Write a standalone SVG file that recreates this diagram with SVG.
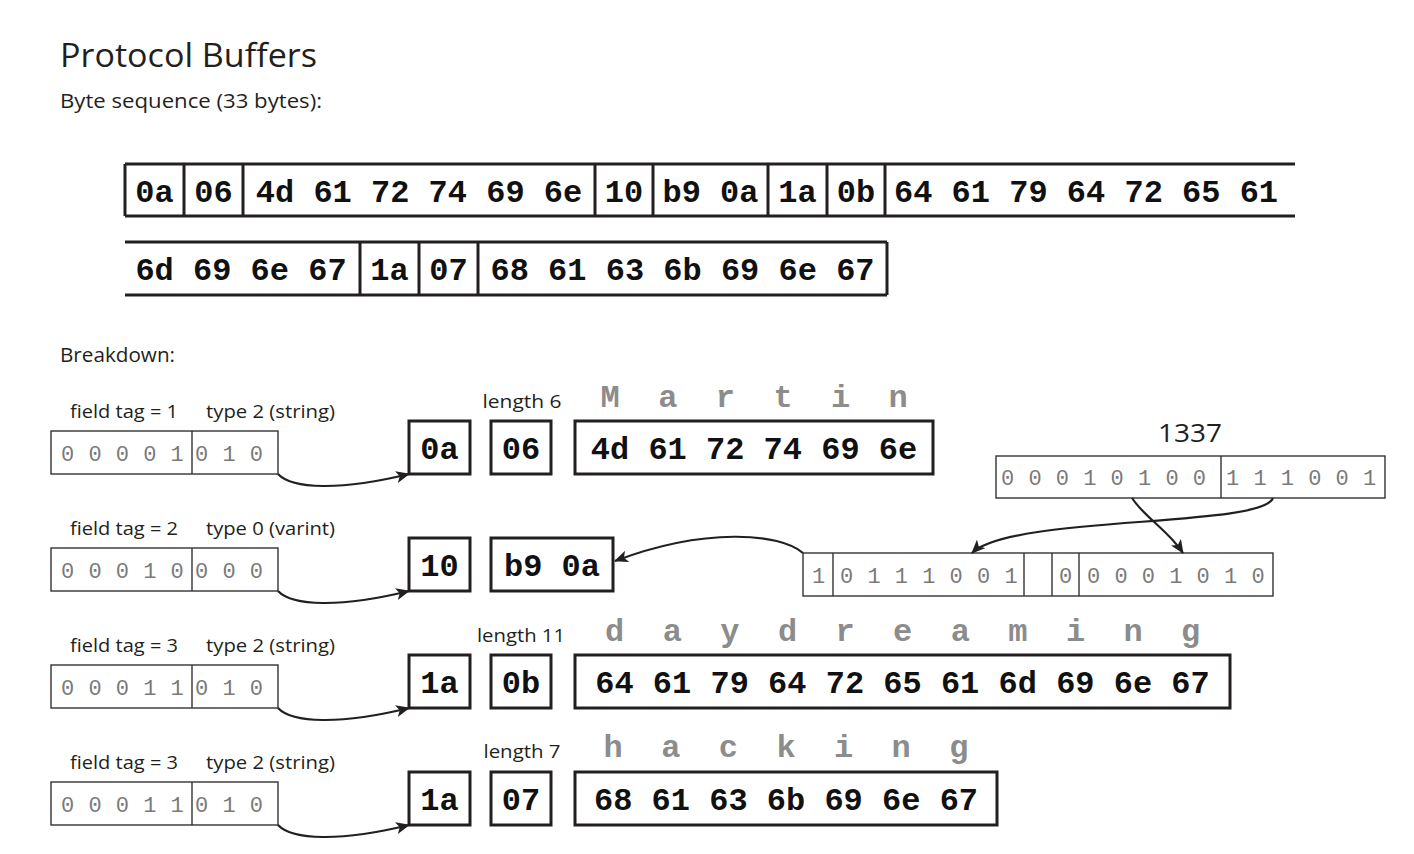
<svg xmlns="http://www.w3.org/2000/svg" width="1414" height="854" viewBox="0 0 1414 854">
<style>
.sans{font-family:"Open Sans","Liberation Sans",sans-serif;fill:#231f20}
.hex{font-family:"Liberation Mono","Courier New",monospace;font-weight:bold;font-size:32px;fill:#111}
.chr{font-family:"Liberation Mono","Courier New",monospace;font-weight:bold;font-size:32px;fill:#8c8c8c;text-anchor:middle}
.bit{font-family:"Liberation Mono","Courier New",monospace;font-size:22px;letter-spacing:0.5px;fill:#7a7a7a}
.thick{fill:#fff;stroke:#231f20;stroke-width:3}
.line{fill:none;stroke:#231f20;stroke-width:3}
.thin{fill:#fff;stroke:#333;stroke-width:1.4}
.div{stroke:#333;stroke-width:1.4}
.mid{text-anchor:middle}
.conn{fill:none;stroke:#231f20;stroke-width:2.2;marker-end:url(#ah)}
</style>
<defs>
<marker id="ah" markerWidth="14" markerHeight="12" refX="13" refY="6" orient="auto" markerUnits="userSpaceOnUse">
<path d="M0,0 L14,6 L0,12 L3.5,6 z" fill="#231f20"/>
</marker>
</defs>
<rect width="1414" height="854" fill="#fff"/>

<g id="titles">
<text class="sans" x="60" y="67" font-size="33" textLength="257" lengthAdjust="spacingAndGlyphs">Protocol Buffers</text>
<text class="sans" x="60" y="108" font-size="20" textLength="262" lengthAdjust="spacingAndGlyphs">Byte sequence (33 bytes):</text>
<text class="sans" x="60" y="362" font-size="20" textLength="115" lengthAdjust="spacingAndGlyphs">Breakdown:</text>
</g>

<g id="byte-row-1">
<line class="line" x1="125" y1="164" x2="1295" y2="164"/>
<line class="line" x1="125" y1="216" x2="1295" y2="216"/>
<line class="line" x1="125" y1="164" x2="125" y2="216"/>
<line class="line" x1="184" y1="164" x2="184" y2="216"/>
<line class="line" x1="243" y1="164" x2="243" y2="216"/>
<line class="line" x1="595" y1="164" x2="595" y2="216"/>
<line class="line" x1="653" y1="164" x2="653" y2="216"/>
<line class="line" x1="768" y1="164" x2="768" y2="216"/>
<line class="line" x1="827" y1="164" x2="827" y2="216"/>
<line class="line" x1="885" y1="164" x2="885" y2="216"/>
<text class="hex mid" x="154.5" y="202">0a</text>
<text class="hex mid" x="213.5" y="202">06</text>
<text class="hex mid" x="419" y="202">4d 61 72 74 69 6e</text>
<text class="hex mid" x="624" y="202">10</text>
<text class="hex mid" x="710.5" y="202">b9 0a</text>
<text class="hex mid" x="797.5" y="202">1a</text>
<text class="hex mid" x="856" y="202">0b</text>
<text class="hex" x="894" y="202">64 61 79 64 72 65 61</text>
</g>

<g id="byte-row-2">
<line class="line" x1="125" y1="242" x2="887" y2="242"/>
<line class="line" x1="125" y1="295" x2="887" y2="295"/>
<line class="line" x1="360" y1="242" x2="360" y2="295"/>
<line class="line" x1="419" y1="242" x2="419" y2="295"/>
<line class="line" x1="478" y1="242" x2="478" y2="295"/>
<line class="line" x1="887" y1="242" x2="887" y2="295"/>
<text class="hex mid" x="241" y="280">6d 69 6e 67</text>
<text class="hex mid" x="389.5" y="280">1a</text>
<text class="hex mid" x="448.5" y="280">07</text>
<text class="hex mid" x="682.5" y="280">68 61 63 6b 69 6e 67</text>
</g>

<!-- Field 1 -->
<g id="field1-tag">
<text class="sans" x="70" y="418" font-size="19" textLength="108" lengthAdjust="spacingAndGlyphs">field tag = 1</text>
<text class="sans" x="206" y="418" font-size="19" textLength="129" lengthAdjust="spacingAndGlyphs">type 2 (string)</text>
<rect class="thin" x="51" y="431" width="227" height="43"/>
<line class="div" x1="192" y1="431" x2="192" y2="474"/>
<text class="bit" x="61" y="461">0 0 0 0 1</text>
<text class="bit" x="195" y="461">0 1 0</text>
</g>
<g id="field1-bytes">
<rect class="thick" x="409" y="421" width="61" height="53"/>
<text class="hex mid" x="439.5" y="459">0a</text>
<text class="sans mid" x="522" y="408" font-size="19" textLength="79" lengthAdjust="spacingAndGlyphs">length 6</text>
<rect class="thick" x="491" y="421" width="60" height="53"/>
<text class="hex mid" x="521" y="459">06</text>
<rect class="thick" x="575" y="421" width="358" height="53"/>
<text class="hex mid" x="754" y="459">4d 61 72 74 69 6e</text>
<text class="chr" x="610.2 667.8 725.4 783 840.6 898.2" y="407">Martin</text>
</g>

<!-- Field 2 -->
<g id="field2-tag">
<text class="sans" x="70" y="535" font-size="19" textLength="108" lengthAdjust="spacingAndGlyphs">field tag = 2</text>
<text class="sans" x="206" y="535" font-size="19" textLength="129" lengthAdjust="spacingAndGlyphs">type 0 (varint)</text>
<rect class="thin" x="51" y="548" width="227" height="43"/>
<line class="div" x1="192" y1="548" x2="192" y2="591"/>
<text class="bit" x="61" y="578">0 0 0 1 0</text>
<text class="bit" x="195" y="578">0 0 0</text>
</g>
<g id="field2-bytes">
<rect class="thick" x="409" y="538" width="61" height="53"/>
<text class="hex mid" x="439.5" y="576">10</text>
<rect class="thick" x="491" y="538" width="122" height="53"/>
<text class="hex mid" x="552" y="576">b9 0a</text>
</g>
<g id="value-1337">
<text class="sans mid" x="1190" y="442" font-size="26" textLength="64" lengthAdjust="spacingAndGlyphs">1337</text>
<rect class="thin" x="996" y="456" width="389" height="42"/>
<line class="div" x1="1221" y1="456" x2="1221" y2="498"/>
<text class="bit" x="1001" y="485" letter-spacing="0.8">0 0 0 1 0 1 0 0</text>
<text class="bit" x="1226" y="485" letter-spacing="0.8">1 1 1 0 0 1</text>
</g>
<g id="varint-bytes">
<rect class="thin" x="803" y="553" width="470" height="43"/>
<line class="div" x1="833" y1="553" x2="833" y2="596"/>
<line class="div" x1="1024" y1="553" x2="1024" y2="596"/>
<line class="div" x1="1052" y1="553" x2="1052" y2="596"/>
<line class="div" x1="1079" y1="553" x2="1079" y2="596"/>
<text class="bit" x="812" y="583">1</text>
<text class="bit" x="840" y="583">0 1 1 1 0 0 1</text>
<text class="bit" x="1059" y="583">0</text>
<text class="bit" x="1087" y="583">0 0 0 1 0 1 0</text>
</g>

<!-- Field 3 -->
<g id="field3-tag">
<text class="sans" x="70" y="652" font-size="19" textLength="108" lengthAdjust="spacingAndGlyphs">field tag = 3</text>
<text class="sans" x="206" y="652" font-size="19" textLength="129" lengthAdjust="spacingAndGlyphs">type 2 (string)</text>
<rect class="thin" x="51" y="665" width="227" height="43"/>
<line class="div" x1="192" y1="665" x2="192" y2="708"/>
<text class="bit" x="61" y="695">0 0 0 1 1</text>
<text class="bit" x="195" y="695">0 1 0</text>
</g>
<g id="field3-bytes">
<rect class="thick" x="409" y="655" width="61" height="53"/>
<text class="hex mid" x="439.5" y="693">1a</text>
<text class="sans mid" x="521" y="642" font-size="19" textLength="88" lengthAdjust="spacingAndGlyphs">length 11</text>
<rect class="thick" x="491" y="655" width="60" height="53"/>
<text class="hex mid" x="521" y="693">0b</text>
<rect class="thick" x="575" y="655" width="655" height="53"/>
<text class="hex mid" x="902.5" y="693">64 61 79 64 72 65 61 6d 69 6e 67</text>
<text class="chr" x="614.7 672.3 729.9 787.5 845.1 902.7 960.3 1017.9 1075.5 1133.1 1190.7" y="641">daydreaming</text>
</g>

<!-- Field 4 -->
<g id="field4-tag">
<text class="sans" x="70" y="769" font-size="19" textLength="108" lengthAdjust="spacingAndGlyphs">field tag = 3</text>
<text class="sans" x="206" y="769" font-size="19" textLength="129" lengthAdjust="spacingAndGlyphs">type 2 (string)</text>
<rect class="thin" x="51" y="782" width="227" height="43"/>
<line class="div" x1="192" y1="782" x2="192" y2="825"/>
<text class="bit" x="61" y="812">0 0 0 1 1</text>
<text class="bit" x="195" y="812">0 1 0</text>
</g>
<g id="field4-bytes">
<rect class="thick" x="409" y="772" width="61" height="53"/>
<text class="hex mid" x="439.5" y="810">1a</text>
<text class="sans mid" x="522" y="758" font-size="19" textLength="77" lengthAdjust="spacingAndGlyphs">length 7</text>
<rect class="thick" x="491" y="772" width="60" height="53"/>
<text class="hex mid" x="521" y="810">07</text>
<rect class="thick" x="575" y="772" width="422" height="53"/>
<text class="hex mid" x="786" y="810">68 61 63 6b 69 6e 67</text>
<text class="chr" x="613.2 670.8 728.4 786 843.6 901.2 958.8" y="757">hacking</text>
</g>

<g id="connectors">
<path class="conn" d="M278,474 C292,489 340,491 409,474"/>
<path class="conn" d="M278,591 C292,606 340,608 409,591"/>
<path class="conn" d="M278,708 C292,723 340,725 409,708"/>
<path class="conn" d="M278,825 C292,840 340,842 409,825"/>
<path class="conn" d="M803,553 C780,533 705,527 615,561"/>
<path class="conn" d="M1132,498 C1145,518 1168,530 1183,553"/>
<path class="conn" d="M1273,498 C1262,528 1010,515 972,553"/>
</g>
</svg>
